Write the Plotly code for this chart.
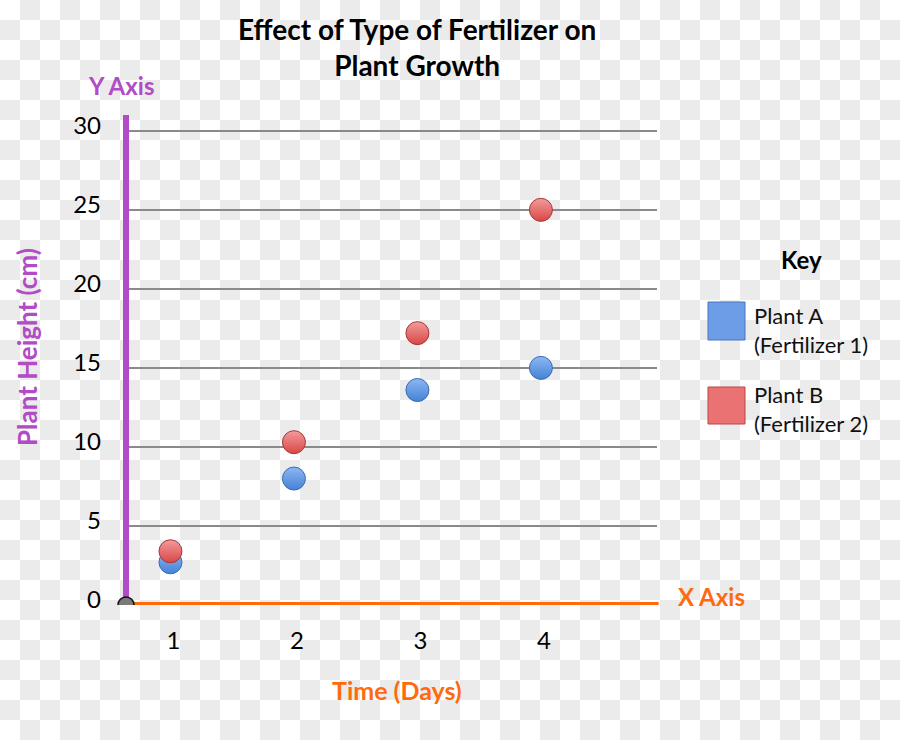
import base64
import plotly.graph_objects as go

# ---- data ----
days = [1, 2, 3, 4]
tick_labels = ["1", "2", "3", "4"]
plant_a = [2.7, 8.0, 13.6, 15.0]
plant_b = [3.4, 10.3, 17.2, 25.0]
y_ticks = [0, 5, 10, 15, 20, 25, 30]
series_names = ["Plant A<br>(Fertilizer 1)", "Plant B<br>(Fertilizer 2)"]

W, H = 900, 740
FONT = "Lato, Carlito, Calibri, sans-serif"
PURPLE = "#B24BC6"
ORANGE = "#FF6A0C"

x_range = [0.64, 4.94]
y_range = [0, 31]

def px(x):
    return x / W

def py(y):
    return 1 - y / H

# checkerboard background (transparent-PNG look)
svg = (
    f'<svg xmlns="http://www.w3.org/2000/svg" width="{W}" height="{H}">'
    '<defs><pattern id="p" width="40" height="40" patternUnits="userSpaceOnUse">'
    '<rect width="40" height="40" fill="#ffffff"/>'
    '<rect x="20" y="0" width="20" height="20" fill="#ebebeb"/>'
    '<rect x="0" y="20" width="20" height="20" fill="#ebebeb"/>'
    '</pattern></defs>'
    f'<rect width="{W}" height="{H}" fill="url(#p)"/></svg>'
)
bg_src = "data:image/svg+xml;base64," + base64.b64encode(svg.encode()).decode()

fig = go.Figure()
fig.add_trace(go.Scatter(
    x=days, y=plant_a, mode="markers", name=series_names[0],
    marker=dict(size=23, color="#8DB7F2",
                gradient=dict(type="vertical", color="#4582D6"),
                line=dict(color="#3A6CB0", width=1)),
    showlegend=False, hoverinfo="skip"))
fig.add_trace(go.Scatter(
    x=days, y=plant_b, mode="markers", name=series_names[1],
    marker=dict(size=23, color="#F39C9C",
                gradient=dict(type="vertical", color="#D94646"),
                line=dict(color="#A83636", width=1)),
    showlegend=False, hoverinfo="skip"))

x0d, x1d = px(126), px(657)
y0d, y1d = py(605), py(115)

shapes = [
    dict(type="line", xref="x domain", yref="y domain", x0=0, x1=0, y0=0, y1=1,
         line=dict(color=PURPLE, width=6), layer="above"),
    dict(type="line", xref="x domain", yref="y", x0=0, x1=1.003, y0=0, y1=0,
         line=dict(color=ORANGE, width=6), layer="above"),
    dict(type="circle", xref="x domain", yref="y", xsizemode="pixel", ysizemode="pixel",
         xanchor=0, yanchor=0, x0=-8, x1=8, y0=-8, y1=8,
         fillcolor="#7a7a7a", line=dict(color="#111111", width=1.5), layer="above"),
    dict(type="rect", xref="paper", yref="paper", x0=px(708), x1=px(745), y0=py(340), y1=py(302),
         fillcolor="#6C9DE6", line=dict(color="#4677BD", width=1)),
    dict(type="rect", xref="paper", yref="paper", x0=px(708), x1=px(745), y0=py(424), y1=py(387),
         fillcolor="#EA7272", line=dict(color="#BB4444", width=1)),
]

annotations = [
    dict(text="<b>Effect of Type of Fertilizer on<br>Plant Growth</b>", x=px(417), y=py(47),
         xref="paper", yref="paper", showarrow=False, xanchor="center", yanchor="middle",
         font=dict(family=FONT, size=28, color="#000000")),
    dict(text="<b>Y Axis</b>", x=px(121), y=py(85), xref="paper", yref="paper",
         showarrow=False, xanchor="center", yanchor="middle",
         font=dict(family=FONT, size=24, color=PURPLE)),
    dict(text="<b>Plant Height (cm)</b>", x=px(27), y=py(347), xref="paper", yref="paper",
         showarrow=False, xanchor="center", yanchor="middle", textangle=-90,
         font=dict(family=FONT, size=26, color=PURPLE)),
    dict(text="<b>X Axis</b>", x=px(676), y=py(596), xref="paper", yref="paper",
         showarrow=False, xanchor="left", yanchor="middle",
         font=dict(family=FONT, size=24, color=ORANGE)),
    dict(text="<b>Time (Days)</b>", x=px(397), y=py(690), xref="paper", yref="paper",
         showarrow=False, xanchor="center", yanchor="middle",
         font=dict(family=FONT, size=25, color=ORANGE)),
    dict(text="<b>Key</b>", x=px(801), y=py(259), xref="paper", yref="paper",
         showarrow=False, xanchor="center", yanchor="middle",
         font=dict(family=FONT, size=24, color="#000000")),
    dict(text=series_names[0], x=px(752), y=py(330), xref="paper", yref="paper",
         showarrow=False, xanchor="left", yanchor="middle", align="left",
         font=dict(family=FONT, size=22, color="#111111")),
    dict(text=series_names[1], x=px(752), y=py(409), xref="paper", yref="paper",
         showarrow=False, xanchor="left", yanchor="middle", align="left",
         font=dict(family=FONT, size=22, color="#111111")),
]

fig.update_layout(
    width=W, height=H,
    margin=dict(l=0, r=0, t=0, b=0),
    paper_bgcolor="#ffffff",
    plot_bgcolor="rgba(0,0,0,0)",
    showlegend=False,
    hovermode=False,
    images=[dict(source=bg_src, xref="paper", yref="paper", x=0, y=1, sizex=1, sizey=1,
                 xanchor="left", yanchor="top", sizing="stretch", layer="below")],
    xaxis=dict(domain=[x0d, x1d], range=x_range, showgrid=False, zeroline=False,
               showline=False, tickmode="array", tickvals=days, ticktext=tick_labels,
               ticks="", ticklabelstandoff=19, ticklabelshift=3, fixedrange=True,
               automargin=False,
               tickfont=dict(family=FONT, size=24, color="#000000")),
    yaxis=dict(domain=[y0d, y1d], range=y_range, showgrid=True, gridcolor="#8a8a8a",
               gridwidth=1.5, zeroline=False, showline=False, tickmode="array",
               tickvals=y_ticks, ticks="", ticklabelstandoff=24, ticklabelshift=-5,
               fixedrange=True, automargin=False,
               tickfont=dict(family=FONT, size=24, color="#000000")),
    shapes=shapes,
    annotations=annotations,
)

fig.write_html(
    "out.html",
    config={"displayModeBar": False},
    post_script="document.body.style.margin='0';document.body.style.overflow='hidden';",
)
